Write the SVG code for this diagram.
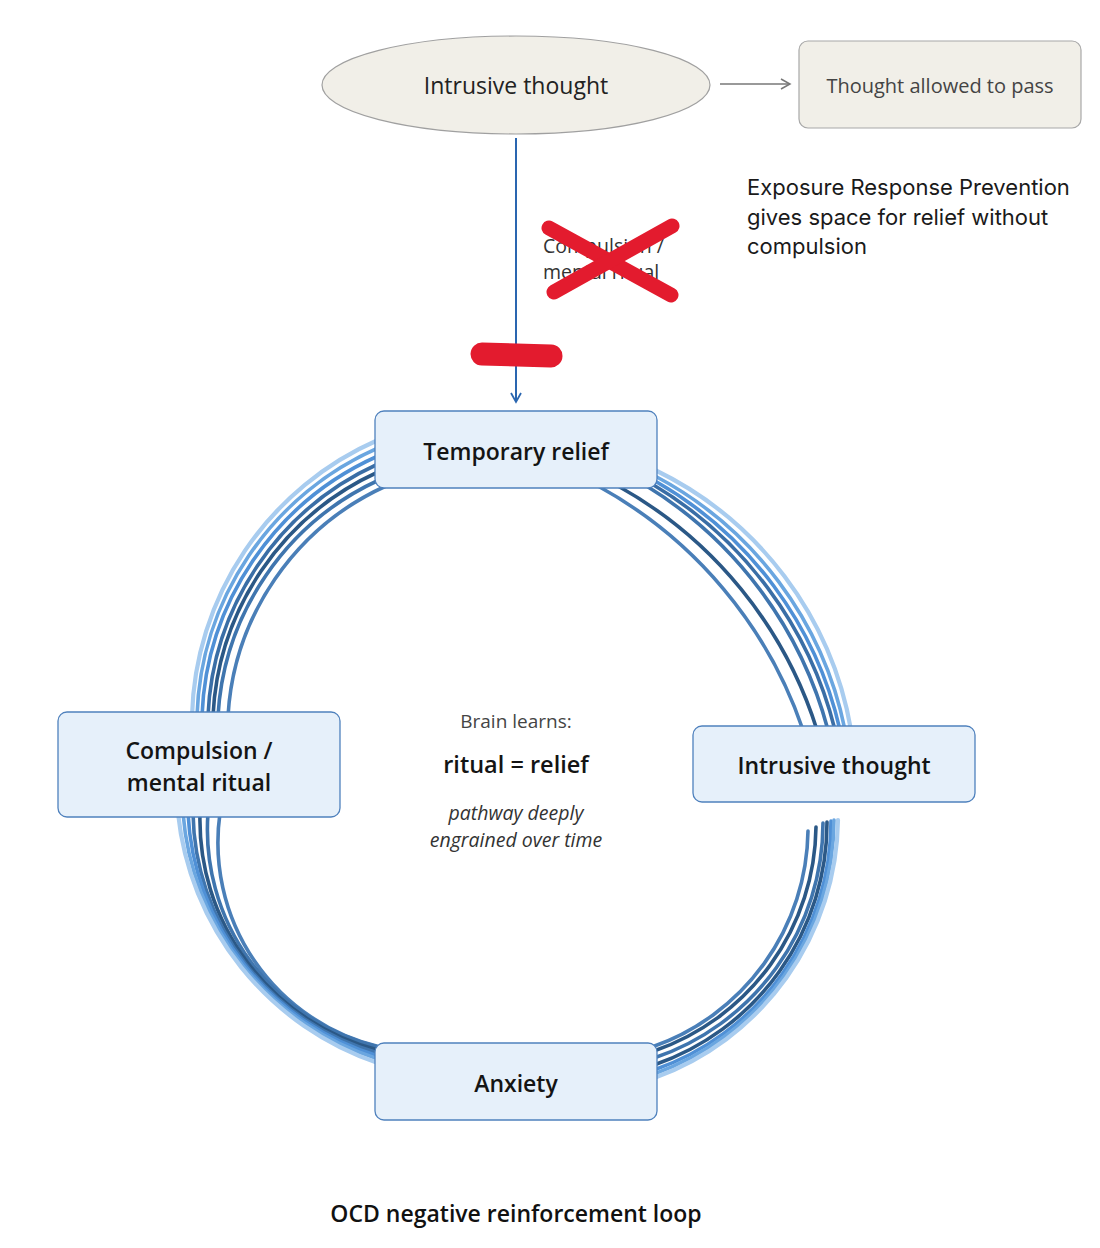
<svg xmlns="http://www.w3.org/2000/svg" width="1100" height="1248" viewBox="0 0 1100 1248">
<defs>
<style>
.t{font-family:"Open Sans","Noto Sans","DejaVu Sans",sans-serif;}
.node rect{fill:#e6f0fa;stroke:#4f81bd;stroke-width:1.3;}
.nl{font-size:23px;font-weight:600;fill:#141414;text-anchor:middle;}
.s{fill:none;stroke-width:3.6;stroke-linecap:round;}
.c1{stroke:#a8ccef;stroke-width:4.2;}
.c2{stroke:#6aa6e0;}
.c3{stroke:#4f90d6;}
.c4{stroke:#3a6ea6;}
.c5{stroke:#2b5886;}
.c6{stroke:#3f75ae;}
.c7{stroke:#4a7fb8;}
.red{stroke:#e31b2e;stroke-linecap:round;fill:none;}
</style>
<marker id="ah" viewBox="0 0 12 12" refX="10" refY="6" markerWidth="12" markerHeight="12" markerUnits="userSpaceOnUse" orient="auto">
<path d="M1,1 L10,6 L1,11" fill="none" stroke="#2a66b0" stroke-width="1.8"/>
</marker>
<marker id="ag" viewBox="0 0 12 12" refX="10" refY="6" markerWidth="12" markerHeight="12" markerUnits="userSpaceOnUse" orient="auto">
<path d="M1,1 L10,6 L1,11" fill="none" stroke="#777" stroke-width="1.5"/>
</marker>
</defs>
<rect width="1100" height="1248" fill="#ffffff"/>

<g id="connectors">
<line x1="720" y1="84" x2="790" y2="84" stroke="#777" stroke-width="1.5" marker-end="url(#ag)"/>
<line x1="516" y1="138" x2="516" y2="402" stroke="#2a66b0" stroke-width="2" marker-end="url(#ah)"/>
<g id="bundle1">
<path class="s c1" d="M192,716 A310,310 0 0 1 378,440"/>
<path class="s c2" d="M197,716 A303,303 0 0 1 378,448"/>
<path class="s c3" d="M202,716 A297,297 0 0 1 378,456"/>
<path class="s c4" d="M208,716 A290,290 0 0 1 378,464"/>
<path class="s c5" d="M213,716 A283,283 0 0 1 378,472"/>
<path class="s c6" d="M218,716 A277,277 0 0 1 379,480"/>
<path class="s c7" d="M228,716 A270,270 0 0 1 386,486"/>
</g>
<g id="bundle2">
<path class="s c7" d="M598,486 A440,440 0 0 1 803,730"/>
<path class="s c5" d="M618,486 A425,425 0 0 1 817,730"/>
<path class="s c6" d="M645,485 A411,411 0 0 1 828,730"/>
<path class="s c4" d="M652,484 A397,397 0 0 1 835,730"/>
<path class="s c3" d="M655,481 A384,384 0 0 1 840,730"/>
<path class="s c2" d="M655,476 A370,370 0 0 1 845,730"/>
<path class="s c1" d="M655,470 A356,356 0 0 1 851,730"/>
</g>
<g id="bundle3">
<path class="s c7" d="M808,831 A232,232 0 0 1 652,1047"/>
<path class="s c5" d="M816,827 A240,240 0 0 1 654,1051"/>
<path class="s c6" d="M823,823 A248,248 0 0 1 654,1058"/>
<path class="s c5" d="M827,822 A256,256 0 0 1 654,1065"/>
<path class="s c3" d="M831,821 A263,263 0 0 1 654,1070"/>
<path class="s c2" d="M834,820 A270,270 0 0 1 654,1074"/>
<path class="s c1" d="M838,820 A278,278 0 0 1 654,1078"/>
</g>
<g id="bundle4">
<path class="s c7" d="M380,1047 A210,210 0 0 1 220,813"/>
<path class="s c6" d="M378,1047 A224,224 0 0 1 208,813"/>
<path class="s c5" d="M378,1050 A238,238 0 0 1 200,813"/>
<path class="s c6" d="M378,1053 A253,253 0 0 1 193,813"/>
<path class="s c3" d="M378,1056 A267,267 0 0 1 188,813"/>
<path class="s c2" d="M378,1059 A281,281 0 0 1 183,813"/>
<path class="s c1" d="M378,1063 A296,296 0 0 1 178,813"/>
</g>
</g>

<g id="node-intrusive-top">
<ellipse cx="516" cy="85" rx="194" ry="49" fill="#f1efe8" stroke="#a0a0a0" stroke-width="1.2"/>
<text class="t" x="516" y="94" font-size="23" fill="#222" text-anchor="middle">Intrusive thought</text>
</g>
<g id="node-pass">
<rect x="799" y="41" width="282" height="87" rx="9" fill="#f1efe8" stroke="#a8a8a8" stroke-width="1.2"/>
<text class="t" x="940" y="93" font-size="20" fill="#444" text-anchor="middle">Thought allowed to pass</text>
</g>

<g id="crossed-label">
<text class="t" font-size="19.5" fill="#333"><tspan x="543" y="253">Compulsion /</tspan><tspan x="543" y="279">mental ritual</tspan></text>
<line class="red" x1="549" y1="228" x2="671" y2="295" stroke-width="15"/>
<line class="red" x1="672" y1="226" x2="554" y2="292" stroke-width="15"/>
</g>
<g id="block-bar">
<line class="red" x1="482" y1="354" x2="551" y2="356" stroke-width="23"/>
</g>

<g id="erp-note">
<text font-family="Inter,'Noto Sans',sans-serif" font-size="22" fill="#1a1a1a"><tspan x="747" y="195">Exposure Response Prevention</tspan><tspan x="747" y="225">gives space for relief without</tspan><tspan x="747" y="254">compulsion</tspan></text>
</g>

<g id="node-relief" class="node">
<rect x="375" y="411" width="282" height="77" rx="9"/>
<text class="t nl" x="516" y="460">Temporary relief</text>
</g>
<g id="node-compulsion" class="node">
<rect x="58" y="712" width="282" height="105" rx="9"/>
<text class="t nl" x="199" y="759">Compulsion /</text>
<text class="t nl" x="199" y="791">mental ritual</text>
</g>
<g id="node-intrusive" class="node">
<rect x="693" y="726" width="282" height="76" rx="9"/>
<text class="t nl" x="834" y="774">Intrusive thought</text>
</g>
<g id="node-anxiety" class="node">
<rect x="375" y="1043" width="282" height="77" rx="9"/>
<text class="t nl" x="516" y="1092">Anxiety</text>
</g>

<g id="center-note">
<text class="t" x="516" y="728" font-size="19" fill="#444" text-anchor="middle">Brain learns:</text>
<text class="t" x="516" y="773" font-size="23.5" font-weight="600" fill="#141414" text-anchor="middle">ritual = relief</text>
<text class="t" x="516" y="820" font-size="19.5" font-style="italic" fill="#333" text-anchor="middle">pathway deeply</text>
<text class="t" x="516" y="847" font-size="19.5" font-style="italic" fill="#333" text-anchor="middle">engrained over time</text>
</g>

<g id="title">
<text class="t" x="516" y="1222" font-size="23" font-weight="600" fill="#111" text-anchor="middle">OCD negative reinforcement loop</text>
</g>
</svg>
